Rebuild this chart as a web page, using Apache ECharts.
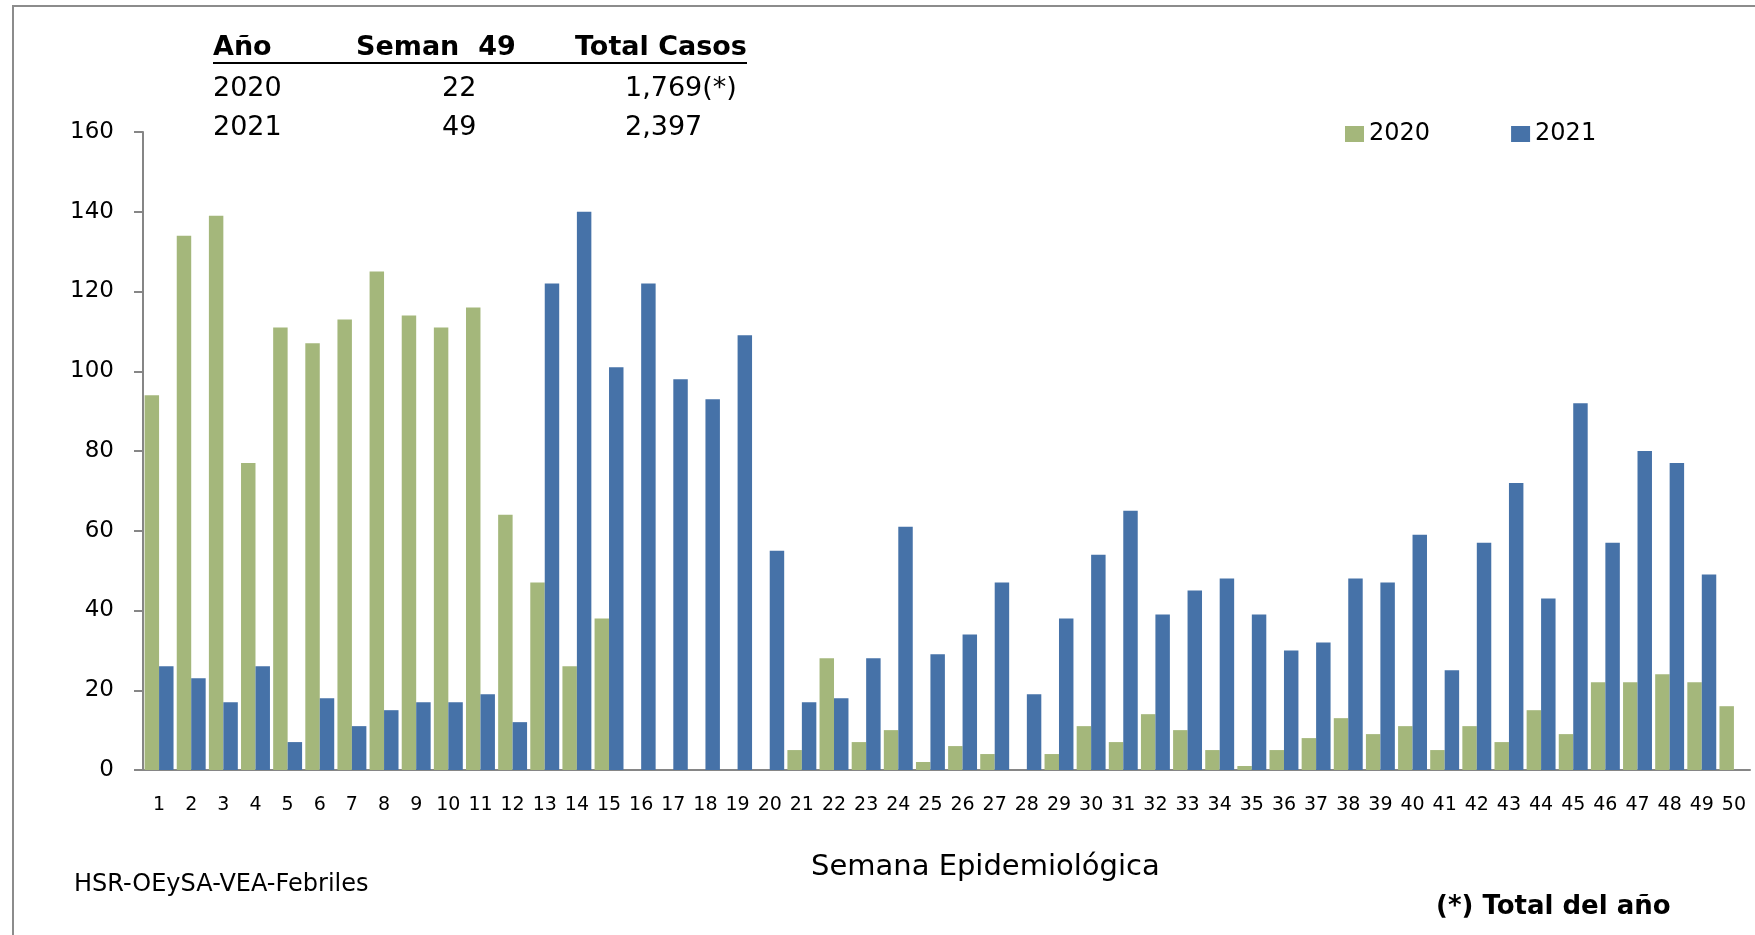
<!DOCTYPE html>
<html lang="es">
<head>
  <meta charset="UTF-8">
  <title>Febriles por semana epidemiológica</title>
  <script src="https://cdn.jsdelivr.net/npm/echarts@6/dist/echarts.min.js"></script>
  <style>
    html, body { margin: 0; padding: 0; background: #fff; }
    #chart { width: 1755px; height: 935px; }
  </style>
</head>
<body>
  <div id="chart"></div>
<script>
  // semanas 1..50
  const semanas = Array.from({ length: 50 }, (_, i) => String(i + 1));
  const casos2020 = [94, 134, 139, 77, 111, 107, 113, 125, 114, 111,
                     116, 64, 47, 26, 38, 0, 0, 0, 0, 0,
                     5, 28, 7, 10, 2, 6, 4, 0, 4, 11,
                     7, 14, 10, 5, 1, 5, 8, 13, 9, 11,
                     5, 11, 7, 15, 9, 22, 22, 24, 22, 16];
  const casos2021 = [26, 23, 17, 26, 7, 18, 11, 15, 17, 17,
                     19, 12, 122, 140, 101, 122, 98, 93, 109, 55,
                     17, 18, 28, 61, 29, 34, 47, 19, 38, 54,
                     65, 39, 45, 48, 39, 30, 32, 48, 47, 59,
                     25, 57, 72, 43, 92, 57, 80, 77, 49, null];
  const yTicks = [0, 20, 40, 60, 80, 100, 120, 140, 160];
  const tabla = [
    ['Año', 'Seman  49', 'Total Casos'],
    ['2020', '22', '1,769(*)'],
    ['2021', '49', '2,397']
  ];

  const verde = '#a4b77b';
  const azul = '#4672a8';
  const font = 'DejaVu Sans';

  const chart = echarts.init(document.getElementById('chart'));

  function texto(txt, x, y, size, bold) {
    return {
      type: 'text', x: x, y: y,
      style: {
        text: txt, fill: '#000', verticalAlign: 'middle',
        font: (bold ? 'bold ' : '') + size + 'px "' + font + '"'
      }
    };
  }

  // tabla de resumen arriba a la izquierda
  const colX = [[213, 356, 575], [213, 442, 625], [213, 442, 625]];
  const rowY = [48, 89, 128];
  const tablaTxt = [];
  tabla.forEach((fila, r) => {
    fila.forEach((txt, c) => {
      tablaTxt.push(texto(txt, colX[r][c], rowY[r], 27, r === 0));
    });
  });

  chart.setOption({
    animation: false,
    textStyle: { fontFamily: font },
    grid: { left: 143, right: 5, top: 132, bottom: 165 },
    legend: {
      left: 1340, top: 117,
      itemWidth: 19, itemHeight: 16, itemGap: 81,
      icon: 'rect',
      textStyle: { fontSize: 24, color: '#000', fontFamily: font },
      data: ['2020', '2021']
    },
    xAxis: {
      type: 'category',
      data: semanas,
      axisLine: { lineStyle: { color: '#868686', width: 2 } },
      axisTick: { interval: 1, length: 7, lineStyle: { color: '#868686', width: 2 } },
      axisLabel: { interval: 0, margin: 26, fontSize: 19, color: '#000', fontFamily: font }
    },
    yAxis: {
      type: 'value',
      min: yTicks[0], max: yTicks[yTicks.length - 1], interval: 20,
      splitLine: { show: false },
      axisLine: { show: true, lineStyle: { color: '#868686', width: 2 } },
      axisTick: { show: true, length: 9, lineStyle: { color: '#868686', width: 2 } },
      axisLabel: { margin: 29, fontSize: 23, color: '#000', fontFamily: font }
    },
    series: [
      {
        name: '2020', type: 'bar', data: casos2020,
        barGap: '0%', barCategoryGap: '10%',
        itemStyle: { color: verde }
      },
      {
        name: '2021', type: 'bar', data: casos2021,
        itemStyle: { color: azul }
      }
    ],
    graphic: [
      { type: 'rect', shape: { x: 13, y: 6, width: 1800, height: 1000 },
        style: { fill: 'none', stroke: '#8c8c8c', lineWidth: 2 }, z: -1 },
      { type: 'line', shape: { x1: 213, y1: 63, x2: 747, y2: 63 },
        style: { stroke: '#000', lineWidth: 2 } },
      ...tablaTxt,
      texto('Semana Epidemiológica', 811, 867, 29, false),
      texto('HSR-OEySA-VEA-Febriles', 74, 885, 24, false),
      texto('(*) Total del año', 1436, 907, 26, true)
    ]
  });
</script>
</body>
</html>
